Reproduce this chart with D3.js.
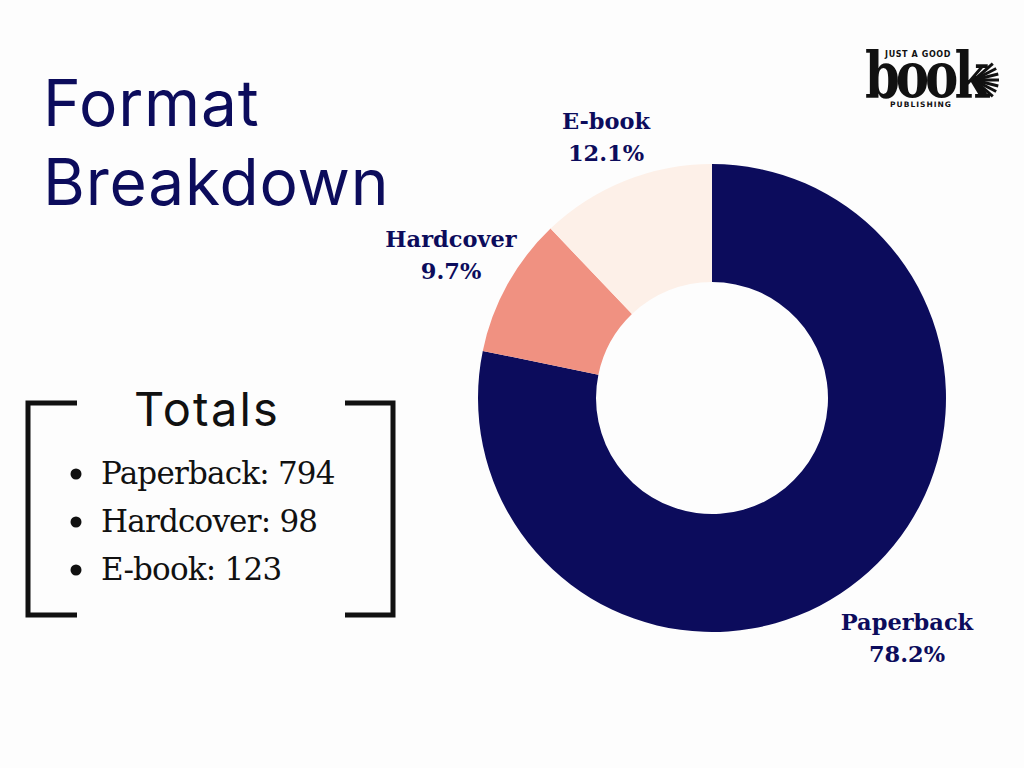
<!DOCTYPE html>
<html>
<head>
<meta charset="utf-8">
<script src="https://cdn.jsdelivr.net/npm/d3@7"></script>
<style>
  body { margin: 0; background: #fdfdfd; }
  svg { display: block; }
</style>
</head>
<body>
<script>
// format breakdown donut

const formats = ["Paperback", "Hardcover", "E-book"];
const counts = [794, 98, 123];
const shares = [78.2, 9.7, 12.1];  // percent labels as printed
const colors = ["#0c0c5c", "#f09181", "#fdf0e8"];

const width = 1024, height = 768;
const navy = "#0c0c5c";

const svg = d3.select("body").append("svg")
  .attr("width", width)
  .attr("height", height);

svg.append("rect").attr("width", width).attr("height", height).attr("fill", "#fdfdfd");

// ---- title
const title = svg.append("text")
  .attr("fill", navy)
  .attr("font-family", "Inter, 'Noto Sans', sans-serif")
  .attr("font-size", 64)
  .attr("letter-spacing", 0.8);
title.append("tspan").attr("x", 43).attr("y", 126).text("Format");
title.append("tspan").attr("x", 43).attr("y", 205).text("Breakdown");

// ---- donut
const cx = 712, cy = 398;
const outerR = 234, innerR = 116;

const pie = d3.pie().sort(null).value(d => d);
const arcs = pie(counts);
const arc = d3.arc().innerRadius(innerR).outerRadius(outerR);

const g = svg.append("g").attr("transform", `translate(${cx},${cy})`);

g.selectAll("path")
  .data(arcs)
  .enter()
  .append("path")
    .attr("d", arc)
    .attr("fill", (d, i) => colors[i]);

// labels - placed just outside each slice
const labelPos = [
  { x: 907, y: 630 },
  { x: 451, y: 247 },
  { x: 606, y: 129 }
];

const labels = svg.selectAll("text.lbl")
  .data(formats)
  .enter()
  .append("text")
    .attr("class", "lbl")
    .attr("text-anchor", "middle")
    .attr("fill", navy)
    .attr("font-family", "'DejaVu Serif', serif")
    .attr("font-weight", "bold")
    .attr("font-size", 22.5);

labels.append("tspan")
  .attr("x", (d, i) => labelPos[i].x)
  .attr("y", (d, i) => labelPos[i].y)
  .text(d => d);
labels.append("tspan")
  .attr("x", (d, i) => labelPos[i].x)
  .attr("y", (d, i) => labelPos[i].y + 32)
  .text((d, i) => shares[i].toFixed(1) + "%");

// ---- totals box
const box = svg.append("g");
const bw = 5;
box.append("path")
  .attr("d", "M77,403 H28 V615 H77")
  .attr("fill", "none").attr("stroke", "#111").attr("stroke-width", bw);
box.append("path")
  .attr("d", "M345,403 H393 V615 H345")
  .attr("fill", "none").attr("stroke", "#111").attr("stroke-width", bw);

box.append("text")
  .attr("x", 207).attr("y", 426)
  .attr("text-anchor", "middle")
  .attr("fill", "#111")
  .attr("font-family", "Inter, 'Noto Sans', sans-serif")
  .attr("font-size", 47)
  .attr("letter-spacing", 2.2)
  .text("Totals");

const rows = box.selectAll("g.row")
  .data(formats)
  .enter()
  .append("g")
    .attr("class", "row")
    .attr("transform", (d, i) => `translate(0,${484 + i * 48})`);

rows.append("circle")
  .attr("cx", 76).attr("cy", -10).attr("r", 5.5)
  .attr("fill", "#111");
rows.append("text")
  .attr("x", 101)
  .attr("fill", "#111")
  .attr("font-family", "'DejaVu Serif', serif")
  .attr("font-size", 31)
  .attr("letter-spacing", -0.8)
  .text((d, i) => `${d}: ${counts[i]}`);

// ---- logo
const logo = svg.append("g").attr("fill", "#111");
logo.append("text")
  .attr("x", 918).attr("y", 57)
  .attr("text-anchor", "middle")
  .attr("font-family", "'DejaVu Sans', sans-serif")
  .attr("font-weight", "bold")
  .attr("font-size", 8)
  .attr("letter-spacing", 0.6)
  .text("JUST A GOOD");
// the big word is stretched tall like the display face in the original
logo.append("g")
  .attr("transform", "translate(865,97) scale(1.02,1.3)")
  .append("text")
    .attr("x", 0).attr("y", 0)
    .attr("font-family", "'DejaVu Serif', serif")
    .attr("font-weight", "bold")
    .attr("font-size", 49)
    .attr("letter-spacing", -4)
    .text("book");
logo.append("text")
  .attr("x", 921).attr("y", 107)
  .attr("text-anchor", "middle")
  .attr("font-family", "'DejaVu Sans', sans-serif")
  .attr("font-weight", "bold")
  .attr("font-size", 7.5)
  .attr("letter-spacing", 1)
  .text("PUBLISHING");
// little fan of pages on the k
const fan = d3.range(-3, 4);
logo.selectAll("line.fan")
  .data(fan)
  .enter()
  .append("line")
    .attr("x1", 974).attr("y1", 80)
    .attr("x2", d => 974 + 25 * Math.cos(d * 0.24))
    .attr("y2", d => 80 + 25 * Math.sin(d * 0.24))
    .attr("stroke", "#111").attr("stroke-width", 3);
</script>
</body>
</html>
